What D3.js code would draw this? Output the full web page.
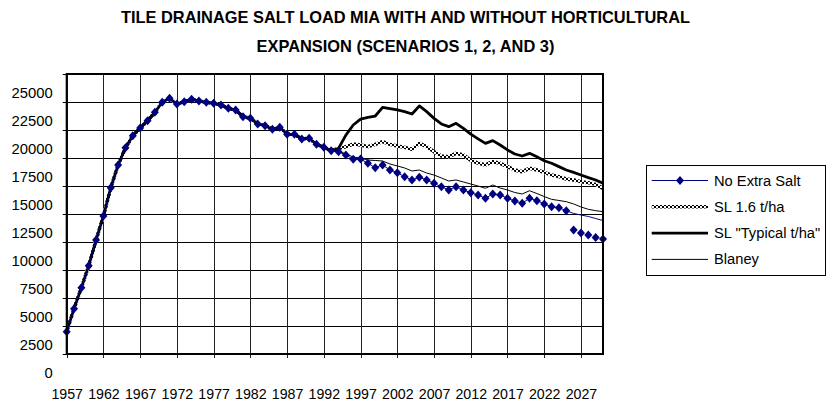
<!DOCTYPE html>
<html>
<head>
<meta charset="utf-8">
<script src="https://cdn.jsdelivr.net/npm/d3@7"></script>
<style>
  body { margin: 0; background: #fff; }
  svg text { font-family: "Liberation Sans", Arial, sans-serif; fill: #000; }
</style>
</head>
<body>
<svg id="chart"></svg>
<script>
// category axis: one point per year
const years = d3.range(1957, 2031);
const tickYears = d3.range(1957, 2031, 5);
const yTicks = d3.range(0, 25001, 2500);

// 1957-1993, shared by all scenarios
const history = [3640, 5700, 7570, 9540, 11830, 13970, 16500, 18530, 20070, 21140,
  21830, 22480, 23230, 24130, 24480, 23970, 24180, 24390, 24240, 24130,
  24040, 23880, 23590, 23440, 22840, 22700, 22190, 22040, 21710, 21890,
  21270, 21270, 20850, 20910, 20380, 20110, 19800];

// 1994-2030 per scenario
const noExtraSalt = [19700, 19420, 19040, 19060, 18680, 18290, 18530, 18080, 17840, 17480,
  17190, 17430, 17190, 16890, 16590, 16300, 16590, 16300, 16050, 15850,
  15550, 15940, 15850, 15550, 15310, 15110, 15550, 15340, 15050, 14800,
  14710, 14450, 14200, 14060, 13930, 13750, 13570];
const sl16 = [20010, 20160, 20400, 20310, 20160, 20370, 20610, 20370, 20220, 20100,
  19930, 20460, 20160, 19720, 19330, 19270, 19570, 19420, 18950, 18700,
  18530, 18820, 18680, 18380, 18080, 17930, 18230, 18080, 17870, 17630,
  17490, 17280, 17190, 17040, 16950, 16800, 16440];
const slTypical = [20010, 21200, 22100, 22630, 22780, 22900, 23680, 23560, 23440, 23290,
  23080, 23800, 23290, 22690, 22190, 21950, 22250, 21800, 21280, 20860,
  20460, 20700, 20310, 19870, 19510, 19330, 19570, 19270, 18910, 18680,
  18380, 18080, 17870, 17630, 17400, 17190, 16890];
const blaney = [19780, 19510, 19240, 19150, 18970, 18930, 18880, 18620, 18440, 18260,
  17990, 18080, 17810, 17630, 17370, 17100, 17190, 17010, 16830, 16650,
  16450, 16740, 16470, 16300, 16070, 15940, 16230, 15980, 15710, 15460,
  15360, 15250, 15050, 14780, 14570, 14450, 14360];

// No Extra Salt markers stop in 2025; a second run of markers sits lower
const markerEnd = 2025;
const tailYears = [2026, 2027, 2028, 2029, 2030];
const tailValues = [12720, 12460, 12280, 12050, 11920];

const legendNames = ["No Extra Salt", "SL 1.6 t/ha", "SL \"Typical t/ha\"", "Blaney"];

const W = 827, H = 401;
const plot = {left: 66.7, top: 74, right: 603, bottom: 354};
// value labels sit one half-step below the gridlines in the original
const gridShift = -18.5;

const svg = d3.select("#chart").attr("width", W).attr("height", H);

const x = d3.scaleLinear().domain([1957, 2030]).range([plot.left, plot.right]);
const y = d3.scaleLinear().domain([0, 25000]).range([372.5, 92.5]);

// checkered stroke for the SL 1.6 line
const defs = svg.append("defs");
const pat = defs.append("pattern")
  .attr("id", "checker").attr("patternUnits", "userSpaceOnUse")
  .attr("width", 4).attr("height", 4);
pat.append("rect").attr("width", 4).attr("height", 4).attr("fill", "#fff");
pat.append("rect").attr("width", 2).attr("height", 2).attr("fill", "#000");
pat.append("rect").attr("x", 2).attr("y", 2).attr("width", 2).attr("height", 2).attr("fill", "#000");

// title
const title = svg.append("g").style("font-weight", "bold").style("font-size", "16.4px")
  .attr("text-anchor", "middle");
title.append("text").attr("x", 405.5).attr("y", 22.5)
  .text("TILE DRAINAGE SALT LOAD MIA WITH AND WITHOUT HORTICULTURAL");
title.append("text").attr("x", 405.5).attr("y", 52)
  .text("EXPANSION (SCENARIOS 1, 2, AND 3)");

// gridlines
const grid = svg.append("g");
grid.selectAll(".hgrid")
  .data(yTicks)
  .enter().append("line")
  .attr("x1", plot.left - 4).attr("x2", plot.right)
  .attr("y1", d => Math.round(y(d) + gridShift) + 0.5)
  .attr("y2", d => Math.round(y(d) + gridShift) + 0.5)
  .attr("stroke", "#000").attr("stroke-width", 1);
grid.selectAll(".vgrid")
  .data(tickYears)
  .enter().append("line")
  .attr("x1", d => Math.round(x(d)) + 0.5).attr("x2", d => Math.round(x(d)) + 0.5)
  .attr("y1", plot.top).attr("y2", plot.bottom + 4)
  .attr("stroke", "#222").attr("stroke-width", 1);

// y labels
const yAxis = svg.append("g")
  .attr("transform", "translate(" + (plot.left - 14) + ",0)")
  .call(d3.axisLeft(y).tickValues(yTicks).tickSize(0).tickPadding(0).tickFormat(d3.format("d")));
yAxis.select(".domain").remove();
yAxis.selectAll("text").style("font-size", "14.8px").style("font-family", null).attr("fill", "#000");

// x labels
const xAxis = svg.append("g")
  .attr("transform", "translate(0," + 389 + ")")
  .call(d3.axisBottom(x).tickValues(tickYears).tickSize(0).tickPadding(0).tickFormat(d3.format("d")));
xAxis.select(".domain").remove();
xAxis.selectAll("text").style("font-size", "14.2px").style("font-family", null).attr("fill", "#000");

// series
const line = d3.line().x(d => x(d.year)).y(d => y(d.value));
const toPoints = arr => years.map((yr, i) => ({year: yr, value: history.concat(arr)[i]}));

const series = [
  {name: legendNames[1], values: sl16, stroke: "url(#checker)", width: 3.5},
  {name: legendNames[2], values: slTypical, stroke: "#000", width: 2.8},
  {name: legendNames[3], values: blaney, stroke: "#000", width: 1},
  {name: legendNames[0], values: noExtraSalt, stroke: "#000080", width: 1}
];

svg.append("g").selectAll("path")
  .data(series)
  .enter().append("path")
  .attr("d", d => line(toPoints(d.values)))
  .attr("fill", "none")
  .attr("stroke", d => d.stroke)
  .attr("stroke-width", d => d.width)
  .attr("stroke-linejoin", "round");

const diamond = "M0,-4.5L4,0L0,4.5L-4,0Z";
const nesPoints = toPoints(noExtraSalt).filter(d => d.year <= markerEnd)
  .concat(tailYears.map((yr, i) => ({year: yr, value: tailValues[i]})));

svg.append("g").selectAll("path")
  .data(nesPoints)
  .enter().append("path")
  .attr("d", diamond)
  .attr("transform", d => "translate(" + x(d.year) + "," + y(d.value) + ")")
  .attr("fill", "#000080");

// plot frame
svg.append("rect")
  .attr("x", plot.left).attr("y", plot.top)
  .attr("width", plot.right - plot.left).attr("height", plot.bottom - plot.top)
  .attr("fill", "none").attr("stroke", "#000").attr("stroke-width", 2);

// legend
const legend = svg.append("g");
legend.append("rect")
  .attr("x", 646.5).attr("y", 165.5).attr("width", 179).attr("height", 110)
  .attr("fill", "#fff").attr("stroke", "#000").attr("stroke-width", 1);

const legendY = i => 180.5 + i * 26.3;
const styles = [
  {stroke: "#000080", width: 1},
  {stroke: "url(#checker)", width: 3.5},
  {stroke: "#000", width: 2.8},
  {stroke: "#000", width: 1}
];
legend.selectAll(".ln")
  .data(legendNames)
  .enter().append("line")
  .attr("x1", 651.7).attr("x2", 708)
  .attr("y1", (d, i) => legendY(i)).attr("y2", (d, i) => legendY(i))
  .attr("stroke", (d, i) => styles[i].stroke)
  .attr("stroke-width", (d, i) => styles[i].width);
legend.append("path")
  .attr("d", diamond)
  .attr("transform", "translate(680," + legendY(0) + ")")
  .attr("fill", "#000080");
legend.selectAll(".lt")
  .data(legendNames)
  .enter().append("text")
  .attr("x", 714)
  .attr("y", (d, i) => legendY(i) + 5)
  .style("font-size", "14.7px")
  .text(d => d);
</script>
</body>
</html>
